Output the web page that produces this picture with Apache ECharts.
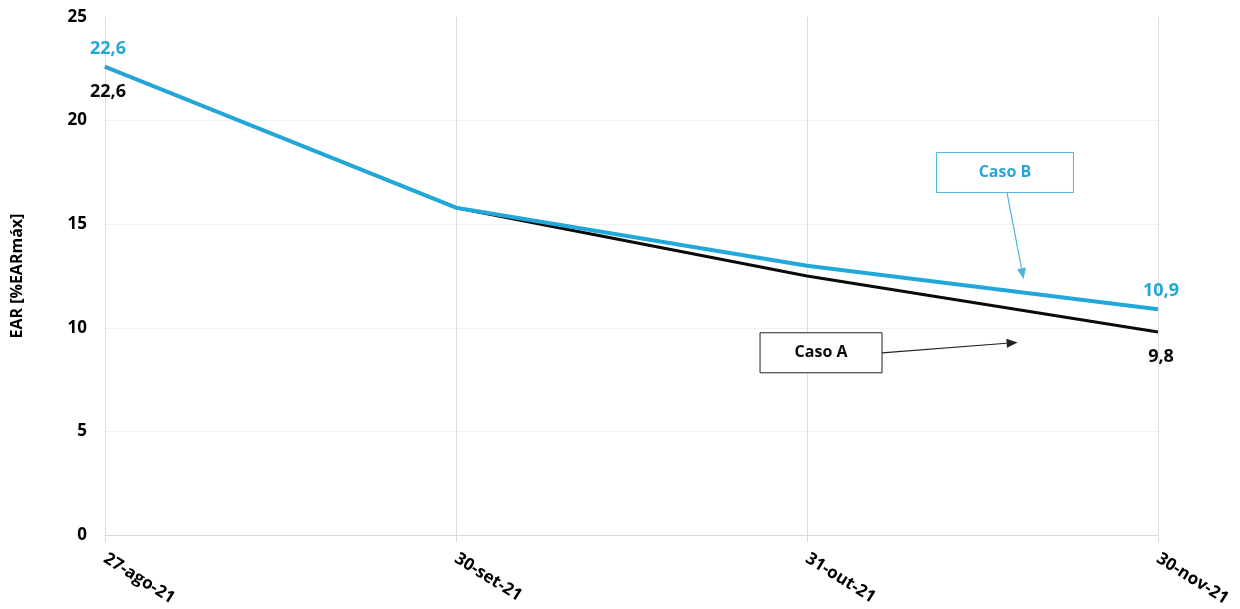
<!DOCTYPE html>
<html>
<head>
<meta charset="utf-8">
<script src="https://cdn.jsdelivr.net/npm/echarts@6/dist/echarts.min.js"></script>
<style>
  html, body { margin: 0; padding: 0; background: #fff; }
  #chart { width: 1240px; height: 609px; }
</style>
</head>
<body>
<div id="chart"></div>
<script>
// EAR evolution, two scenarios
const categories = ['27-ago-21', '30-set-21', '31-out-21', '30-nov-21'];
const casoA = [22.6, 15.8, 12.5, 9.8];
const casoB = [22.6, 15.8, 13.0, 10.9];
const yTicks = { min: 0, max: 25, interval: 5 };

const FONT = '"Open Sans", "Liberation Sans", sans-serif';
const BLUE = '#22a8d8';
const BLACK = '#0a0a0a';

const fmt = v => v.toFixed(1).replace('.', ',');

// label only the first and last point of each series
function endLabels(values, color, pos) {
  return values.map((v, i) => {
    const item = { value: v };
    if (i === 0 || i === values.length - 1) {
      item.label = {
        show: true,
        position: pos,
        distance: pos === 'top' ? 9 : 16,
        offset: [3, 0],
        color: color,
        fontFamily: FONT,
        fontWeight: 'bold',
        fontSize: 18,
        formatter: p => fmt(p.value)
      };
    }
    return item;
  });
}

const chart = echarts.init(document.getElementById('chart'));
chart.setOption({
  animation: false,
  backgroundColor: '#fff',
  grid: { left: 105, right: 82, top: 17, bottom: 73 },
  xAxis: {
    type: 'category',
    data: categories,
    boundaryGap: false,
    axisLine: { lineStyle: { color: '#d9d9d9', width: 1 } },
    axisTick: { show: true, length: 7, lineStyle: { color: '#d9d9d9' } },
    splitLine: { show: true, lineStyle: { color: '#dcdcdc', width: 1 } },
    axisLabel: {
      rotate: -32,
      margin: 22,
      color: '#000',
      fontFamily: FONT,
      fontWeight: 'bold',
      fontSize: 17
    }
  },
  yAxis: {
    type: 'value',
    min: yTicks.min,
    max: yTicks.max,
    interval: yTicks.interval,
    name: 'EAR [%EARmáx]',
    nameLocation: 'middle',
    nameGap: 80,
    nameRotate: 90,
    nameTextStyle: { color: '#000', fontFamily: FONT, fontWeight: 'bold', fontSize: 16 },
    axisLine: { show: false },
    axisTick: { show: false },
    splitLine: { showMaxLine: false, lineStyle: { color: '#f1f1f1', width: 1 } },
    axisLabel: {
      margin: 18,
      color: '#000',
      fontFamily: FONT,
      fontWeight: 'bold',
      fontSize: 17
    }
  },
  series: [
    {
      name: 'Caso A',
      type: 'line',
      data: endLabels(casoA, BLACK, 'bottom'),
      symbol: 'circle',
      symbolSize: 0,
      itemStyle: { color: BLACK },
      z: 2,
      lineStyle: { color: BLACK, width: 3 }
    },
    {
      name: 'Caso B',
      type: 'line',
      data: endLabels(casoB, BLUE, 'top'),
      symbol: 'circle',
      symbolSize: 0,
      itemStyle: { color: BLUE },
      z: 3,
      lineStyle: { color: BLUE, width: 4 }
    }
  ]
});

// Callout boxes with arrows, placed in data space (category index, value)
function px(idx, val) {
  const a = chart.convertToPixel({ gridIndex: 0 }, [0, val]);
  const b = chart.convertToPixel({ gridIndex: 0 }, [1, val]);
  return [a[0] + (b[0] - a[0]) * idx, a[1]];
}

function arrow(from, to, color, width) {
  const dx = to[0] - from[0], dy = to[1] - from[1];
  const len = Math.hypot(dx, dy), ux = dx / len, uy = dy / len;
  const hl = 11, hw = 4.5;
  const base = [to[0] - ux * hl, to[1] - uy * hl];
  return [
    { type: 'line', shape: { x1: from[0], y1: from[1], x2: base[0], y2: base[1] },
      style: { stroke: color, lineWidth: width }, z: 20 },
    { type: 'polygon', shape: { points: [
        to,
        [base[0] - uy * hw, base[1] + ux * hw],
        [base[0] + uy * hw, base[1] - ux * hw]
      ] }, style: { fill: color }, z: 20 }
  ];
}

function callout(text, color, border, cIdx, cVal, w, h, tipIdx, tipVal, startSide) {
  const c = px(cIdx, cVal);
  const x = c[0] - w / 2, y = c[1] - h / 2;
  const tip = px(tipIdx, tipVal);
  const start = startSide === 'right' ? [x + w, c[1]] : [c[0] + 2, y + h];
  return [
    { type: 'rect', shape: { x: x, y: y, width: w, height: h },
      style: { fill: '#fff', stroke: border, lineWidth: 1 }, z: 19 },
    { type: 'text', x: c[0], y: c[1],
      style: { text: text, fill: color, font: 'bold 16px ' + FONT, align: 'center', verticalAlign: 'middle' }, z: 21 },
    ...arrow(start, tip, border, 1.2)
  ];
}

chart.setOption({
  graphic: [
    ...callout('Caso B', BLUE, '#4bb5dc', 2.564, 17.5, 137, 40, 2.617, 12.35, 'bottom'),
    ...callout('Caso A', BLACK, '#222', 2.04, 8.8, 122, 40, 2.6, 9.3, 'right')
  ]
});
</script>
</body>
</html>
